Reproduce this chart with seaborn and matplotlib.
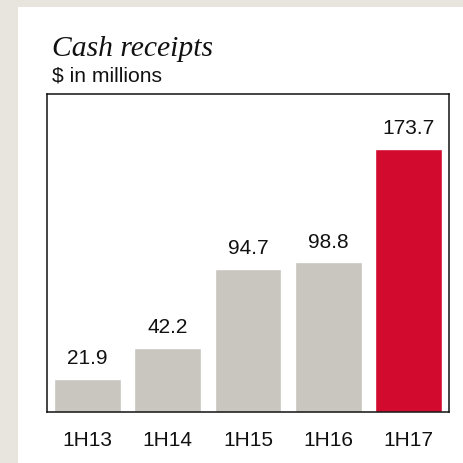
import seaborn as sns
import matplotlib.pyplot as plt

# data
periods = ["1H13", "1H14", "1H15", "1H16", "1H17"]
receipts = [21.9, 42.2, 94.7, 98.8, 173.7]
bar_colors = ["#c9c5bf", "#c9c5bf", "#c9c5bf", "#c9c5bf", "#d20a2e"]

sns.set_style("white")
plt.rcParams["font.family"] = ["Liberation Sans", "DejaVu Sans"]

fig = plt.figure(figsize=(4.63, 4.63), dpi=100)
fig.patch.set_facecolor("#e8e4de")
# white panel
fig.patches.append(plt.Rectangle((18 / 463, 0), 1, 1 - 7 / 463, transform=fig.transFigure,
                                 facecolor="white", edgecolor="none", zorder=-1))

ax = fig.add_axes([47 / 463, 1 - 412 / 463, 402 / 463, 318 / 463])
sns.barplot(x=periods, y=receipts, hue=periods, palette=bar_colors, legend=False,
            width=0.83, saturation=1, ax=ax)
ax.set_xlim(-0.5, 4.5)
ax.set_ylim(0, 210)
ax.set_yticks([])
ax.set_xlabel("")
ax.tick_params(axis="x", length=0, pad=14, labelsize=15, labelcolor="#111111")
for s in ax.spines.values():
    s.set_color("#111111")
    s.set_linewidth(1.1)

for i, v in enumerate(receipts):
    ax.text(i, v + 7, f"{v:.1f}", ha="center", va="bottom", fontsize=15, color="#111111")

fig.text(52 / 463, 1 - 56 / 463, "Cash receipts", family="Liberation Serif", style="italic",
         fontsize=21.3, color="#111111")
fig.text(52 / 463, 1 - 82 / 463, "$ in millions", fontsize=15.2, color="#111111")

fig.savefig("out.png", dpi=100, facecolor=fig.get_facecolor())
